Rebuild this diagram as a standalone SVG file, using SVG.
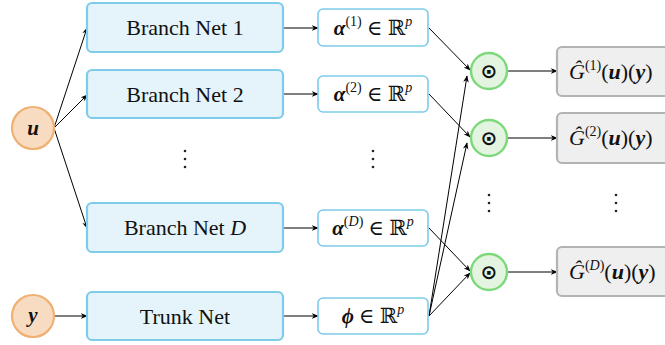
<svg xmlns="http://www.w3.org/2000/svg" width="665" height="345" viewBox="0 0 665 345">
<style>
text{font-family:"Liberation Serif","DejaVu Serif",serif;fill:#111;}
.net rect{fill:#e5f4fa;stroke:#7ecbea;stroke-width:2.2;}
.vec rect{fill:#ffffff;stroke:#7ecbea;stroke-width:1.6;}
.inp circle{fill:#f8dcc2;stroke:#efb072;stroke-width:2.2;}
.prod circle{fill:#e3f5e1;stroke:#7dd879;stroke-width:2.4;}
.out rect{fill:#efefef;stroke:#b3b3b3;stroke-width:2.2;}
.lbl{font-size:22px;text-anchor:middle;}
.math{font-size:21px;text-anchor:middle;}
.bi{font-weight:bold;font-style:italic;}
.it{font-style:italic;}
.sup{font-size:14px;}
.odot{font-size:20px;font-weight:bold;text-anchor:middle;font-family:"DejaVu Sans",sans-serif;}
.otxt{font-size:22px;}
#connectors path{fill:none;stroke:#000;stroke-width:1;marker-end:url(#ah);}
.dots circle{fill:#222;}
</style>
<defs>
<marker id="ah" viewBox="0 0 10 10" refX="9" refY="5" markerWidth="7" markerHeight="7" orient="auto" markerUnits="userSpaceOnUse">
<path d="M0,1 L10,5 L0,9 L3,5 Z" fill="#000"/>
</marker>
</defs>
<rect width="665" height="345" fill="#fff"/>

<g id="connectors">
<path d="M54,128 L87,28"/>
<path d="M54,128 L87,95"/>
<path d="M54,128 L87,228"/>
<path d="M54,316 L87,316"/>
<path d="M283,28 L318,28"/>
<path d="M283,94 L318,94"/>
<path d="M283,228 L318,228"/>
<path d="M283,316 L318,316"/>
<path d="M429,28 L470,70"/>
<path d="M429,94 L470,137"/>
<path d="M429,228 L470,271"/>
<path d="M429,316 L470,273"/>
<path d="M429,316 L467,76"/>
<path d="M429,316 L467,143"/>
<path d="M508,71 L557,71"/>
<path d="M508,138 L557,138"/>
<path d="M508,272 L557,272"/>
</g>

<g id="u" class="inp"><circle cx="33" cy="128" r="21"/><text x="33" y="135" class="math bi">u</text></g>
<g id="y" class="inp"><circle cx="33" cy="316" r="21"/><text x="33" y="322" class="math bi">y</text></g>

<g id="branch1" class="net"><rect x="87" y="3" width="196" height="49" rx="5"/><text x="185" y="35" class="lbl">Branch Net 1</text></g>
<g id="branch2" class="net"><rect x="87" y="70" width="196" height="48" rx="5"/><text x="185" y="102" class="lbl">Branch Net 2</text></g>
<g id="branchD" class="net"><rect x="87" y="203" width="196" height="49" rx="5"/><text x="185" y="235" class="lbl">Branch Net <tspan class="it">D</tspan></text></g>
<g id="trunk" class="net"><rect x="87" y="292" width="196" height="48" rx="5"/><text x="185" y="324" class="lbl">Trunk Net</text></g>

<g id="alpha1" class="vec"><rect x="318" y="9" width="110" height="37" rx="5"/><text x="373" y="35" class="math"><tspan class="bi">α</tspan><tspan class="sup" dy="-9">(1)</tspan><tspan dy="9"> ∈ ℝ</tspan><tspan class="sup it" dy="-9">p</tspan></text></g>
<g id="alpha2" class="vec"><rect x="318" y="76" width="110" height="36" rx="5"/><text x="373" y="101" class="math"><tspan class="bi">α</tspan><tspan class="sup" dy="-9">(2)</tspan><tspan dy="9"> ∈ ℝ</tspan><tspan class="sup it" dy="-9">p</tspan></text></g>
<g id="alphaD" class="vec"><rect x="318" y="210" width="110" height="36" rx="5"/><text x="373" y="235" class="math"><tspan class="bi">α</tspan><tspan class="sup" dy="-9">(<tspan class="it">D</tspan>)</tspan><tspan dy="9"> ∈ ℝ</tspan><tspan class="sup it" dy="-9">p</tspan></text></g>
<g id="phi" class="vec"><rect x="318" y="298" width="110" height="36" rx="5"/><text x="373" y="323" class="math"><tspan class="bi">ϕ</tspan><tspan> ∈ ℝ</tspan><tspan class="sup it" dy="-9">p</tspan></text></g>

<g id="prod1" class="prod"><circle cx="489" cy="71" r="18"/><text x="489" y="78" class="odot">⊙</text></g>
<g id="prod2" class="prod"><circle cx="489" cy="138" r="18"/><text x="489" y="145" class="odot">⊙</text></g>
<g id="prodD" class="prod"><circle cx="489" cy="272" r="18"/><text x="489" y="279" class="odot">⊙</text></g>

<g id="out1" class="out"><rect x="557" y="47" width="120" height="49" rx="5"/><text x="569" y="79" class="otxt"><tspan class="it">Ĝ</tspan><tspan class="sup" dy="-9">(1)</tspan><tspan dy="9">(</tspan><tspan class="bi">u</tspan><tspan>)(</tspan><tspan class="bi">y</tspan><tspan>)</tspan></text></g>
<g id="out2" class="out"><rect x="557" y="113" width="120" height="50" rx="5"/><text x="569" y="145" class="otxt"><tspan class="it">Ĝ</tspan><tspan class="sup" dy="-9">(2)</tspan><tspan dy="9">(</tspan><tspan class="bi">u</tspan><tspan>)(</tspan><tspan class="bi">y</tspan><tspan>)</tspan></text></g>
<g id="outD" class="out"><rect x="557" y="247" width="120" height="49" rx="5"/><text x="569" y="279" class="otxt"><tspan class="it">Ĝ</tspan><tspan class="sup" dy="-9">(<tspan class="it">D</tspan>)</tspan><tspan dy="9">(</tspan><tspan class="bi">u</tspan><tspan>)(</tspan><tspan class="bi">y</tspan><tspan>)</tspan></text></g>

<g class="dots">
<circle cx="185" cy="151" r="1.3"/><circle cx="185" cy="159" r="1.3"/><circle cx="185" cy="167" r="1.3"/>
<circle cx="373" cy="151" r="1.3"/><circle cx="373" cy="159" r="1.3"/><circle cx="373" cy="167" r="1.3"/>
<circle cx="489" cy="195" r="1.3"/><circle cx="489" cy="203" r="1.3"/><circle cx="489" cy="211" r="1.3"/>
<circle cx="616" cy="195" r="1.3"/><circle cx="616" cy="203" r="1.3"/><circle cx="616" cy="211" r="1.3"/>
</g>
</svg>
